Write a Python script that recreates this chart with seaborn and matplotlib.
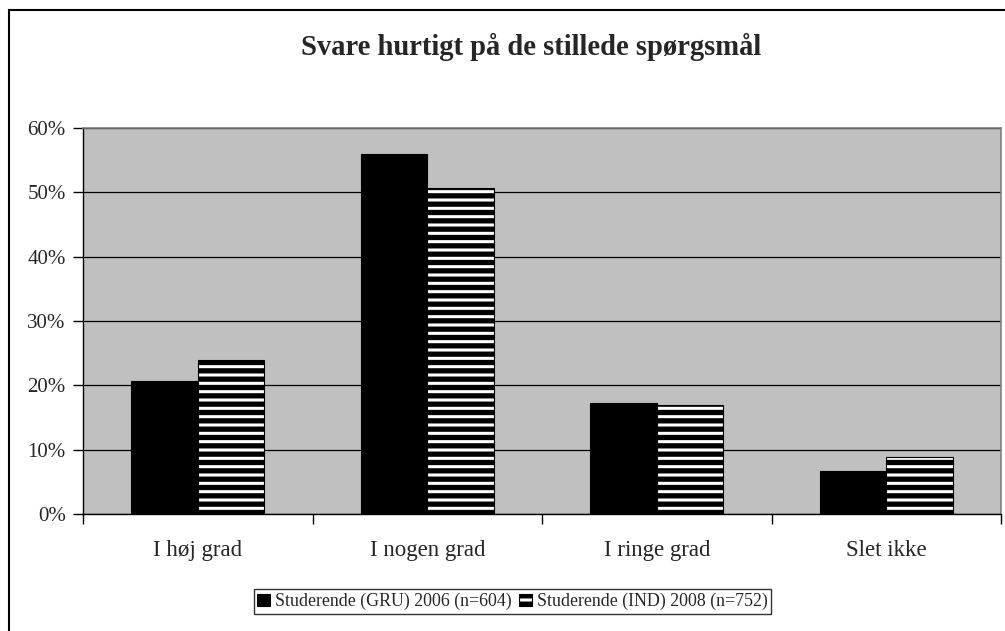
import matplotlib
matplotlib.use('Agg')
import matplotlib.pyplot as plt
import seaborn as sns
import pandas as pd
from matplotlib.patches import Rectangle
from matplotlib.ticker import FixedLocator, PercentFormatter

categories = ["I høj grad", "I nogen grad", "I ringe grad", "Slet ikke"]
series_names = ["Studerende (GRU) 2006 (n=604)", "Studerende (IND) 2008 (n=752)"]
gru_2006 = [20.7, 55.9, 17.3, 6.7]
ind_2008 = [24.0, 50.6, 16.9, 8.9]
y_ticks = [0, 10, 20, 30, 40, 50, 60]
title = "Svare hurtigt på de stillede spørgsmål"

sns.set_theme(style="white")
plt.rcParams['font.family'] = ['Liberation Serif', 'DejaVu Serif']
plt.rcParams['hatch.linewidth'] = 3.8

df = pd.DataFrame({
    "kategori": categories * 2,
    "serie": [series_names[0]] * 4 + [series_names[1]] * 4,
    "andel": gru_2006 + ind_2008,
})

W, H = 1005, 631
fig = plt.figure(figsize=(W / 100, H / 100), dpi=100)
fig.patch.set_facecolor('white')
fig.patches.append(Rectangle((8.5 / W, -0.05), 1.1, 1.05 - 10.5 / H,
                             transform=fig.transFigure, fill=False,
                             edgecolor='black', linewidth=1.5, zorder=0))

ax = fig.add_axes([83 / W, 1 - 514 / H, (1001 - 83) / W, (514 - 128) / H])
ax.set_facecolor('#C0C0C0')

sns.barplot(data=df, x="kategori", y="andel", hue="serie", order=categories,
            hue_order=series_names, palette=['black', 'white'], width=0.58, gap=0,
            edgecolor='black', linewidth=0.8, legend=False, ax=ax, zorder=3)

for p in ax.containers[1]:
    p.set_hatch('--')
    p.set_edgecolor('black')

ax.set_ylim(0, 60)
ax.set_xlim(-0.5, len(categories) - 0.5)
ax.yaxis.set_major_locator(FixedLocator(y_ticks))
ax.yaxis.set_major_formatter(PercentFormatter(decimals=0))
ax.grid(axis='y', color='black', linewidth=0.9, zorder=1)
ax.set_axisbelow(True)
ax.set_xlabel("")
ax.set_ylabel("")

ax.tick_params(axis='y', which='major', direction='out', length=7, width=1,
               color='black', labelsize=15, pad=5.5, left=True)
ax.tick_params(axis='x', which='major', length=0, labelsize=16.5, pad=19)
ax.xaxis.set_minor_locator(FixedLocator([i - 0.5 for i in range(len(categories) + 1)]))
ax.tick_params(axis='x', which='minor', direction='out', length=7, width=1,
               color='black', bottom=True)

for side in ['left', 'bottom']:
    ax.spines[side].set_color('black')
    ax.spines[side].set_linewidth(1)
for side in ['top', 'right']:
    ax.spines[side].set_color('#808080')
    ax.spines[side].set_linewidth(1.2)

fig.text(531 / W, 1 - 47 / H, title, ha='center', va='center',
         fontsize=20.6, fontweight='bold')

handles = [ax.containers[0][0], ax.containers[1][0]]
leg = fig.legend(handles, series_names, loc='center', bbox_to_anchor=(512.5 / W, 1 - 601.5 / H),
                 ncol=2, frameon=True, fancybox=False, fontsize=12.9, handlelength=0.7,
                 handleheight=0.7, handletextpad=0.3, columnspacing=0.4, borderpad=0.2,
                 borderaxespad=0)
leg.get_frame().set_edgecolor('black')
leg.get_frame().set_linewidth(1)

fig.savefig('out.png', dpi=100)
